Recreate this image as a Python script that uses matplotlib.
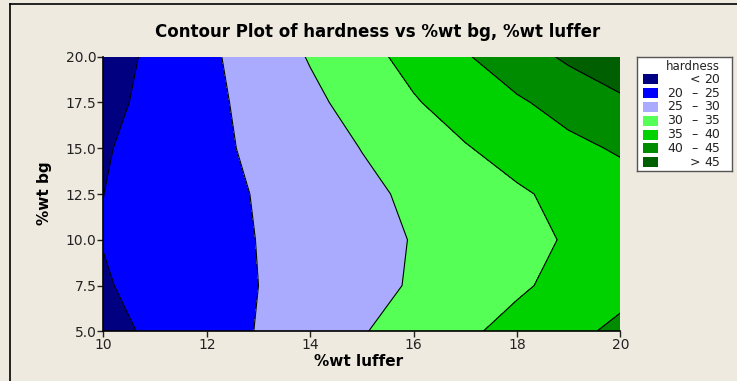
import numpy as np
import matplotlib
matplotlib.use('Agg')
import matplotlib.pyplot as plt
from matplotlib.patches import Rectangle

# grid
luffer = [10, 11, 12, 13, 14, 15, 16, 17, 18, 19, 20]
bg = [5.0, 7.5, 10.0, 12.5, 15.0, 17.5, 20.0]
hardness = [
    [18.6, 20.8, 23.0, 25.2, 27.5, 29.7, 32.0, 34.2, 36.5, 38.8, 41.0],
    [19.6, 21.5, 23.3, 25.0, 26.8, 28.6, 30.4, 32.4, 34.3, 36.4, 38.5],
    [20.15, 21.7, 23.4, 25.1, 26.8, 28.5, 30.2, 31.9, 33.6, 35.4, 37.0],
    [19.98, 21.8, 23.5, 25.3, 27.2, 29.0, 30.8, 32.6, 34.4, 36.2, 38.0],
    [19.6, 21.7, 23.8, 25.9, 28.0, 30.1, 32.4, 34.7, 36.8, 38.9, 40.5],
    [18.7, 21.3, 23.9, 26.4, 29.0, 31.7, 34.6, 37.1, 39.4, 41.7, 44.0],
    [17.9, 21.0, 24.1, 27.2, 30.3, 33.4, 36.5, 39.6, 42.7, 45.8, 48.9],
]
levels = [20, 25, 30, 35, 40, 45]
colors = ['#000080', '#0000FF', '#AAAAFF', '#55FF55', '#00D200', '#008C00', '#005F00']
legend_labels = [('', '<', '20'), ('20', '\u2013', '25'), ('25', '\u2013', '30'),
                 ('30', '\u2013', '35'), ('35', '\u2013', '40'), ('40', '\u2013', '45'),
                 ('', '>', '45')]

bgcol = '#EEEAE0'
fig = plt.figure(figsize=(7.37, 3.81), dpi=100, facecolor=bgcol)

# outer frame (left and top only visible)
fig.add_artist(plt.Line2D([10/737, 10/737], [0, 1 - 4/381], color='black', lw=1.2))
fig.add_artist(plt.Line2D([10/737, 1], [1 - 4/381, 1 - 4/381], color='black', lw=1.2))

ax = fig.add_axes([103.4/737, 1 - 331.3/381, 516.9/737, 274.6/381])
X, Y = np.meshgrid(luffer, bg)
Z = np.array(hardness)
allv = [0] + levels + [100]
ax.contourf(X, Y, Z, levels=allv, colors=colors)
ax.contour(X, Y, Z, levels=levels, colors='black', linewidths=0.8)

ax.set_xlim(10, 20)
ax.set_ylim(5, 20)
ax.set_xticks([10, 12, 14, 16, 18, 20])
ax.set_yticks([5, 7.5, 10, 12.5, 15, 17.5, 20])
ax.set_yticklabels(['5.0', '7.5', '10.0', '12.5', '15.0', '17.5', '20.0'])
ax.tick_params(length=4, width=1, labelsize=10, pad=1, colors='#222222')
for s in ['top', 'right']:
    ax.spines[s].set_visible(False)
for s in ['left', 'bottom']:
    ax.spines[s].set_linewidth(1.2)

fig.text(378/737, 1 - 31.7/381, 'Contour Plot of hardness vs %wt bg, %wt luffer',
         ha='center', va='center', fontsize=12, fontweight='bold')
fig.text(359/737, 1 - 361/381, '%wt luffer', ha='center', va='center',
         fontsize=11, fontweight='bold')
fig.text(44.6/737, 1 - 193/381, '%wt bg', ha='center', va='center',
         fontsize=11, fontweight='bold', rotation=90)

# legend box
lg = fig.add_axes([637/737, 1 - 171/381, 95/737, 114/381])
lg.set_xlim(0, 95)
lg.set_ylim(114, 0)
lg.set_facecolor('white')
lg.set_xticks([])
lg.set_yticks([])
for s in lg.spines.values():
    s.set_color('#555555')
    s.set_linewidth(1)
lg.text(56, 9, 'hardness', ha='center', va='center', fontsize=8.5, color='#222222')
for i, (c, (lo, mid, hi)) in enumerate(zip(colors, legend_labels)):
    yc = 22.3 + i * 13.8
    lg.add_patch(Rectangle((6, yc - 5), 15, 10, facecolor=c, edgecolor='none'))
    if lo:
        lg.text(30.5, yc, lo, ha='left', va='center', fontsize=9, color='#222222')
    lg.text(57.5, yc, mid, ha='center', va='center', fontsize=9, color='#222222')
    lg.text(83, yc, hi, ha='right', va='center', fontsize=9, color='#222222')

plt.savefig('out.png', dpi=100, facecolor=bgcol)
